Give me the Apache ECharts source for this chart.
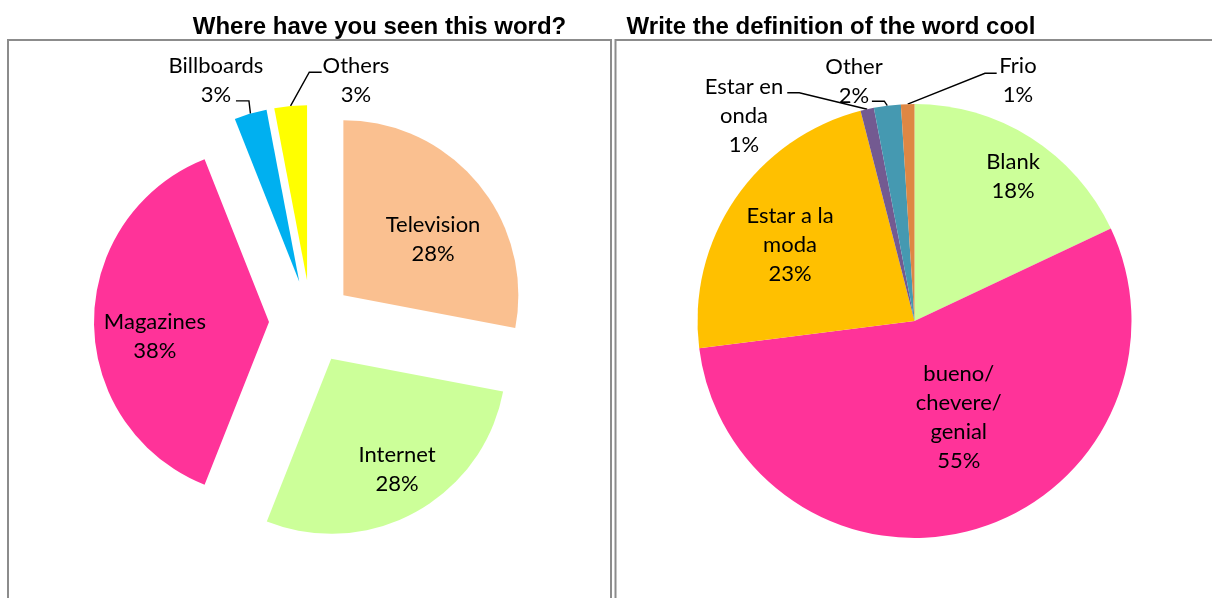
<!DOCTYPE html>
<html>
<head>
<meta charset="utf-8">
<script src="https://cdn.jsdelivr.net/npm/echarts@6/dist/echarts.min.js"></script>
<style>
  html, body { margin: 0; padding: 0; background: #ffffff; }
  #chart { width: 1212px; height: 598px; }
</style>
</head>
<body>
<div id="chart"></div>
<script>
// Survey answers, in percent of respondents
const seenCategories = ['Television', 'Internet', 'Magazines', 'Billboards', 'Others'];
const seenValues = [28, 28, 38, 3, 3];
const coolCategories = ['Blank', 'bueno/\nchevere/\ngenial', 'Estar a la\nmoda', 'Estar en\nonda', 'Other', 'Frio'];
const coolValues = [18, 55, 23, 1, 2, 1];

const seenTitle = 'Where have you seen this word?';
const coolTitle = 'Write the definition of the word cool';

// Slice colours
const seenColors = ['#FAC090', '#CCFF99', '#FF3399', '#00B0F0', '#FFFF00'];
const coolColors = ['#CCFF99', '#FF3399', '#FFC000', '#735A91', '#4599B1', '#DE8744'];

// Pie geometry in pixels; the first pie is exploded
const SEEN_PIE = { cx: 311, cy: 322, r: 175, explode: 42 };
const COOL_PIE = { cx: 914.5, cy: 321, r: 217 };

// Label placement. Inside labels sit at a fraction of the radius (rf) with a small
// angular nudge (da, degrees). Outside labels hang off a leader line that leaves the
// arc at the middle of the slice, bends at "elbow", runs horizontally by "run", and the
// text block is centred at "text" from the end of the line.
const seenLabelPlacement = [
  { rf: 0.605, da: 7.5 },
  { rf: 0.737, da: -1.9 },
  { rf: 0.657, da: -7 },
  { elbow: [-1.5, -12.7], run: -13, text: [-20, -20.5] },
  { elbow: [18.7, -33.7], run: 12.4, text: [34.3, 8.2] }
];
const coolLabelPlacement = [
  { rf: 0.808, da: 1.8 },
  { rf: 0.49, da: -8.4 },
  { rf: 0.672, da: -2.8 },
  { elbow: [-67.9, -16.5], run: -12, text: [-43.3, 23.1] },
  { elbow: [-3, -4.5], run: -12.4, text: [-17.9, -20.2] },
  { elbow: [77.3, -30.8], run: 11.7, text: [21.3, 7.5] }
];

const labelFont = {
  fontFamily: 'Lato, "Open Sans", sans-serif',
  fontSize: 22,
  lineHeight: 29,
  color: '#000000'
};
const leaderStyle = { color: '#000000', width: 1.4 };
const titleFont = {
  fontFamily: '"Liberation Sans", Arial, sans-serif',
  fontWeight: 'bold',
  fontSize: 24,
  color: '#000000'
};
const frameStyle = { fill: 'none', stroke: '#8C8C8C', lineWidth: 2 };

const DEG = Math.PI / 180;

// Point at distance R from (cx, cy), angle measured clockwise from 12 o'clock
function polar(cx, cy, R, theta) {
  return [cx + R * Math.sin(theta * DEG), cy - R * Math.cos(theta * DEG)];
}

// Start, end and middle angle of every slice, clockwise from 12 o'clock
function sliceAngles(values) {
  const total = values.reduce((a, b) => a + b, 0);
  let cum = 0;
  return values.map(v => {
    const a0 = cum / total * 360;
    cum += v;
    const a1 = cum / total * 360;
    return { a0, a1, mid: (a0 + a1) / 2 };
  });
}

function placeLabel(apex, r, mid, p) {
  if (p.rf != null) {
    const [x, y] = polar(apex[0], apex[1], r * p.rf, mid + p.da);
    return { x, y, align: 'center', verticalAlign: 'middle' };
  }
  const a = polar(apex[0], apex[1], r, mid);
  const e = [a[0] + p.elbow[0], a[1] + p.elbow[1]];
  const t = [e[0] + p.run, e[1]];
  return {
    x: t[0] + p.text[0],
    y: t[1] + p.text[1],
    align: 'center',
    verticalAlign: 'middle',
    labelLinePoints: [a, e, t]
  };
}

const percentLabel = p => p.name + '\n' + p.value + '%';

// Exploded pie: every slice is its own series, pushed out along its middle angle
const seenAngles = sliceAngles(seenValues);
const seenSeries = seenCategories.map((name, i) => {
  const ang = seenAngles[i];
  const apex = polar(SEEN_PIE.cx, SEEN_PIE.cy, SEEN_PIE.explode, ang.mid);
  const place = seenLabelPlacement[i];
  const outside = place.rf == null;
  return {
    type: 'pie',
    name: seenTitle,
    center: apex,
    radius: SEEN_PIE.r,
    startAngle: 90 - ang.a0,
    endAngle: 90 - ang.a1,
    clockwise: true,
    avoidLabelOverlap: false,
    silent: true,
    animation: false,
    emphasis: { disabled: true },
    data: [{ name: name, value: seenValues[i], itemStyle: { color: seenColors[i] } }],
    label: Object.assign({ show: true, position: outside ? 'outside' : 'inside', formatter: percentLabel }, labelFont),
    labelLine: { show: outside, lineStyle: leaderStyle },
    labelLayout: () => placeLabel(apex, SEEN_PIE.r, ang.mid, place)
  };
});

const coolAngles = sliceAngles(coolValues);
const coolSeries = {
  type: 'pie',
  name: coolTitle,
  center: [COOL_PIE.cx, COOL_PIE.cy],
  radius: COOL_PIE.r,
  startAngle: 90,
  clockwise: true,
  avoidLabelOverlap: false,
  silent: true,
  animation: false,
  emphasis: { disabled: true },
  data: coolCategories.map((name, i) => {
    const outside = coolLabelPlacement[i].rf == null;
    return {
      name: name,
      value: coolValues[i],
      itemStyle: { color: coolColors[i] },
      label: { position: outside ? 'outside' : 'inside' },
      labelLine: { show: outside }
    };
  }),
  label: Object.assign({ show: true, formatter: percentLabel }, labelFont),
  labelLine: { lineStyle: leaderStyle },
  labelLayout: p => placeLabel([COOL_PIE.cx, COOL_PIE.cy], COOL_PIE.r,
    coolAngles[p.dataIndex].mid, coolLabelPlacement[p.dataIndex])
};

const chart = echarts.init(document.getElementById('chart'), null, { renderer: 'canvas' });
chart.setOption({
  backgroundColor: '#ffffff',
  animation: false,
  title: [
    { text: seenTitle, left: 379.5, top: 27.5, textAlign: 'center', textVerticalAlign: 'middle', padding: 0, textStyle: titleFont },
    { text: coolTitle, left: 831, top: 27.5, textAlign: 'center', textVerticalAlign: 'middle', padding: 0, textStyle: titleFont }
  ],
  graphic: [
    { type: 'rect', silent: true, shape: { x: 8, y: 40, width: 603, height: 620 }, style: frameStyle },
    { type: 'rect', silent: true, shape: { x: 615.5, y: 40, width: 620, height: 620 }, style: frameStyle }
  ],
  series: seenSeries.concat([coolSeries])
});
</script>
</body>
</html>
